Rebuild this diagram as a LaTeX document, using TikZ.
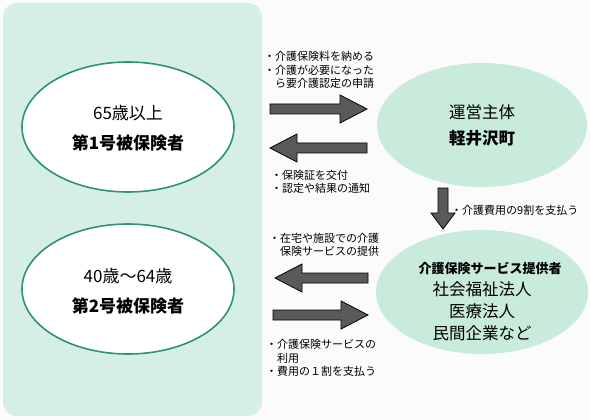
\documentclass[tikz,border=0pt]{standalone}
\usepackage{fontspec}
\setmainfont{Noto Sans CJK JP}
\usetikzlibrary{shapes.geometric}
\definecolor{panel}{HTML}{D6EFE4}
\definecolor{ringgreen}{HTML}{2E9470}
\definecolor{blob}{HTML}{C9EBDB}
\definecolor{arrowgray}{HTML}{5A5A5A}
\definecolor{paper}{HTML}{FBFBFB}
\tikzset{
  member/.style={ellipse, draw=ringgreen, line width=1.6pt, fill=white, minimum width=212pt, minimum height=130pt, inner sep=0pt, align=center},
  party/.style={ellipse, fill=blob, minimum width=210pt, minimum height=124pt, inner sep=0pt, align=center},
  blockarrow/.style={fill=arrowgray, draw=black, line width=0.8pt, line join=miter},
  note/.style={font=\fontsize{11pt}{13.5pt}\selectfont, align=left, anchor=west, inner sep=0pt},
  big/.style={font=\fontsize{17pt}{20pt}\selectfont},
  bigb/.style={font=\fontsize{17pt}{20pt}\selectfont\bfseries},
}
\begin{document}
\begin{tikzpicture}[x=1pt, y=-1pt]
\useasboundingbox (0,0) rectangle (590,420);
\fill[paper] (0,0) rectangle (590,420);
\fill[panel, rounded corners=14pt] (3,3) rectangle (262,416);
% members
\node[member] (m1) at (128,127) {};
\node[big] at (128,113) {65歳以上};
\node[bigb] at (128,143) {第1号被保険者};
\node[member] (m2) at (128,289) {};
\node[big] at (128,276) {40歳～64歳};
\node[bigb] at (128,306) {第2号被保険者};
% parties
\node[party] (town) at (482,125) {};
\node[font=\fontsize{16.5pt}{20pt}\selectfont] at (482,112) {運営主体};
\node[font=\fontsize{16.5pt}{20pt}\selectfont\bfseries] at (482,138) {軽井沢町};
\node[party, minimum width=212pt] (prov) at (482,292) {};
\node[font=\fontsize{13pt}{16pt}\selectfont\bfseries] at (490,268) {介護保険サービス提供者};
\node[font=\fontsize{16.5pt}{20pt}\selectfont] at (482,289) {社会福祉法人};
\node[font=\fontsize{16.5pt}{20pt}\selectfont] at (482,311) {医療法人};
\node[font=\fontsize{16.5pt}{20pt}\selectfont] at (482,333) {民間企業など};
% arrows
\draw[blockarrow] (270,104) -- (340,104) -- (340,95) -- (367,109) -- (340,123) -- (340,114) -- (270,114) -- cycle;
\draw[blockarrow] (367,143) -- (297,143) -- (297,134) -- (270,148) -- (297,162) -- (297,153) -- (367,153) -- cycle;
\draw[blockarrow] (368,273) -- (302,273) -- (302,264) -- (275,278) -- (302,292) -- (302,283) -- (368,283) -- cycle;
\draw[blockarrow] (273,310) -- (341,310) -- (341,301) -- (368,315) -- (341,329) -- (341,320) -- (273,320) -- cycle;
\draw[blockarrow] (438,188) -- (438,213) -- (431,213) -- (443,229) -- (455,213) -- (448,213) -- (448,188) -- cycle;
% notes
\node[note] at (264,70) {・介護保険料を納める\\・介護が必要になった\\\phantom{・}ら要介護認定の申請};
\node[note] at (271,182) {・保険証を交付\\・認定や結果の通知};
\node[note] at (269,245) {・在宅や施設での介護\\\phantom{・}保険サービスの提供};
\node[note] at (266,358) {・介護保険サービスの\\\phantom{・}利用\\・費用の１割を支払う};
\node[note] at (451,210) {・介護費用の9割を支払う};
\end{tikzpicture}
\end{document}
